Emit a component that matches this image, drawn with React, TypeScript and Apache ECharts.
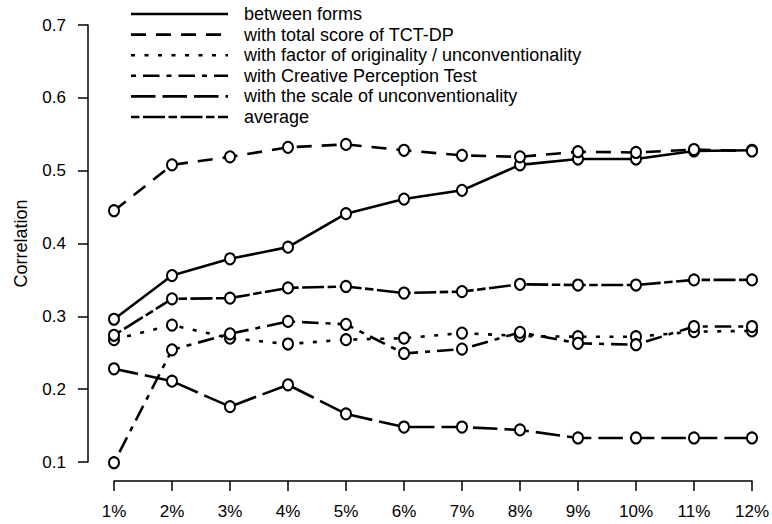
import React, { useEffect, useRef } from "react";
import * as echarts from "echarts";

const categories = ["1%", "2%", "3%", "4%", "5%", "6%", "7%", "8%", "9%", "10%", "11%", "12%"];
const betweenForms = [0.296, 0.356, 0.379, 0.395, 0.441, 0.461, 0.473, 0.508, 0.516, 0.516, 0.527, 0.528];
const totalScore = [0.445, 0.508, 0.519, 0.532, 0.536, 0.528, 0.521, 0.519, 0.526, 0.525, 0.529, 0.527];
const factorOriginality = [0.268, 0.288, 0.270, 0.262, 0.268, 0.270, 0.277, 0.273, 0.272, 0.272, 0.279, 0.280];
const creativePerception = [0.099, 0.254, 0.276, 0.293, 0.289, 0.249, 0.255, 0.278, 0.263, 0.261, 0.286, 0.286];
const scaleUnconventionality = [0.228, 0.211, 0.176, 0.206, 0.166, 0.148, 0.148, 0.144, 0.133, 0.133, 0.133, 0.133];
const averageCorr = [0.274, 0.324, 0.325, 0.339, 0.341, 0.332, 0.334, 0.344, 0.343, 0.343, 0.350, 0.350];

const seriesNames = [
  "between forms",
  "with total score of TCT-DP",
  "with factor of originality / unconventionality",
  "with Creative Perception Test",
  "with the scale of unconventionality",
  "average",
];
const seriesData = [betweenForms, totalScore, factorOriginality, creativePerception, scaleUnconventionality, averageCorr];
// dash patterns in pixels
const dashes: (number[] | null)[] = [null, [15, 10], [4, 9.5], [5, 7, 16.5, 7], [24.5, 7], [8.5, 3.5, 22, 3.5]];

const FONT = "Liberation Sans, Arial, sans-serif";

export default function App() {
  const ref = useRef<HTMLDivElement>(null);
  useEffect(() => {
    if (!ref.current) return;
    const chart = echarts.init(ref.current, undefined, { renderer: "svg" });
    const lw = 2.6;
    const legendGraphics: any[] = [];
    seriesNames.forEach((name, i) => {
      const y = 14 + i * 20.6;
      legendGraphics.push({
        type: "line",
        shape: { x1: 131, y1: y, x2: 228, y2: y },
        style: { stroke: "#000", lineWidth: lw, lineDash: dashes[i] || undefined },
      });
      legendGraphics.push({
        type: "text",
        x: 244,
        y: y,
        style: { text: name, fill: "#000", font: `18px ${FONT}`, verticalAlign: "middle", align: "left" },
      });
    });
    chart.setOption({
      animation: false,
      backgroundColor: "#fff",
      grid: { left: 114, right: 20, top: 25, bottom: 62 },
      xAxis: {
        type: "category",
        data: categories,
        boundaryGap: false,
        offset: 19,
        axisLine: { lineStyle: { color: "#000", width: 1.5 } },
        axisTick: { length: 10, lineStyle: { color: "#000", width: 1.5 } },
        axisLabel: { color: "#000", fontSize: 17, fontFamily: FONT, margin: 22 },
        splitLine: { show: false },
      },
      yAxis: {
        type: "value",
        min: 0.1,
        max: 0.7,
        interval: 0.1,
        offset: 26,
        name: "Correlation",
        nameLocation: "middle",
        nameRotate: 90,
        nameGap: 58,
        nameTextStyle: { color: "#000", fontSize: 18, fontFamily: FONT },
        axisLine: { show: true, lineStyle: { color: "#000", width: 1.5 } },
        axisTick: { show: true, length: 10, lineStyle: { color: "#000", width: 1.5 } },
        axisLabel: { color: "#000", fontSize: 17, fontFamily: FONT, margin: 22, formatter: (v: number) => v.toFixed(1) },
        splitLine: { show: false },
      },
      graphic: legendGraphics,
      series: seriesNames.map((name, i) => ({
        name,
        type: "line",
        data: seriesData[i],
        clip: false,
        symbol: "emptyCircle",
        symbolSize: [10, 11],
        itemStyle: { color: "#000", borderColor: "#000", borderWidth: 1.6 },
        lineStyle: { color: "#000", width: lw, type: dashes[i] || "solid" },
      })),
    });
    return () => chart.dispose();
  }, []);
  return <div ref={ref} style={{ position: "fixed", left: 0, top: 0, width: 772, height: 524 }} />;
}
